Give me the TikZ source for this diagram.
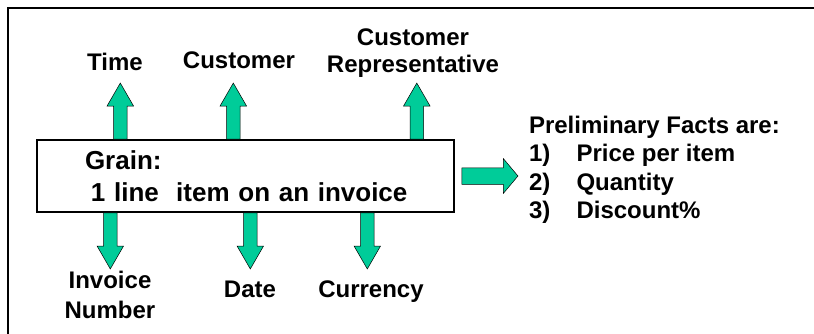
\documentclass[tikz,border=0pt]{standalone}
\usepackage{fontspec}
\setmainfont{Liberation Sans}
\usetikzlibrary{shapes.arrows,positioning}
\definecolor{GArrow}{HTML}{00CC99}

\begin{document}
\begin{tikzpicture}[x=1pt,y=-1pt,
  every node/.style={font=\bfseries\fontsize{24}{28}\selectfont},
  grainbox/.style={draw,line width=1.4pt,minimum width=417pt,minimum height=72pt,
    text width=417pt,align=left,inner xsep=0pt,inner ysep=0pt,
    font=\bfseries\fontsize{26}{32}\selectfont},
  blockarr/.style={single arrow,draw=black,line width=0.5pt,fill=GArrow,
    inner xsep=0pt,inner ysep=6.5pt,text height=0pt,text depth=0pt,
    minimum height=56pt,single arrow head extend=6.5pt,
    single arrow tip angle=60,anchor=tail},
  factarr/.style={blockarr,inner ysep=8pt,single arrow head extend=9pt,
    single arrow tip angle=100},
  lbl/.style={anchor=base,align=center}
]
  \useasboundingbox (0,0) rectangle (814,333);
  \draw[line width=1.3pt] (8,340) |- (820,8);

  \node[grainbox] (grain) at (245.5,176)
    {\hspace*{48pt}Grain:\\\hspace*{54pt}1 line\ \ item on an invoice};

  % dimensions
  \node[blockarr,rotate=90] (aTime) at ([xshift=84pt]grain.north west) {};
  \node[blockarr,rotate=90] (aCust) at ([xshift=197pt]grain.north west) {};
  \node[blockarr,rotate=90] (aRep) at ([xshift=380.5pt]grain.north west) {};
  \node[blockarr,rotate=-90] (aInv) at ([xshift=74pt]grain.south west) {};
  \node[blockarr,rotate=-90] (aDate) at ([xshift=214pt]grain.south west) {};
  \node[blockarr,rotate=-90] (aCurr) at ([xshift=331pt]grain.south west) {};
  \node[factarr] (aFacts) at ([xshift=7pt]grain.east) {};

  \node[lbl] (tTime) at (115,70) {Time};
  \node[lbl] (tCust) at (239,68) {Customer};
  \node[lbl,font=\bfseries\fontsize{24}{27}\selectfont] (tRep) at (413,72) {Customer\\Representative};
  \node[lbl,font=\bfseries\fontsize{24}{30}\selectfont] (tInv) at (110,318) {Invoice\\Number};
  \node[lbl] (tDate) at (250,297) {Date};
  \node[lbl] (tCurr) at (371,297) {Currency};

  % facts
  \node[anchor=base west,align=left,font=\bfseries\fontsize{24}{28.5}\selectfont]
    (facts) at (525.5,218.5) {Preliminary Facts are:\\
    \makebox[47.5pt][l]{1)}Price per item\\
    \makebox[47.5pt][l]{2)}Quantity\\
    \makebox[47.5pt][l]{3)}Discount\%};
\end{tikzpicture}
\end{document}
